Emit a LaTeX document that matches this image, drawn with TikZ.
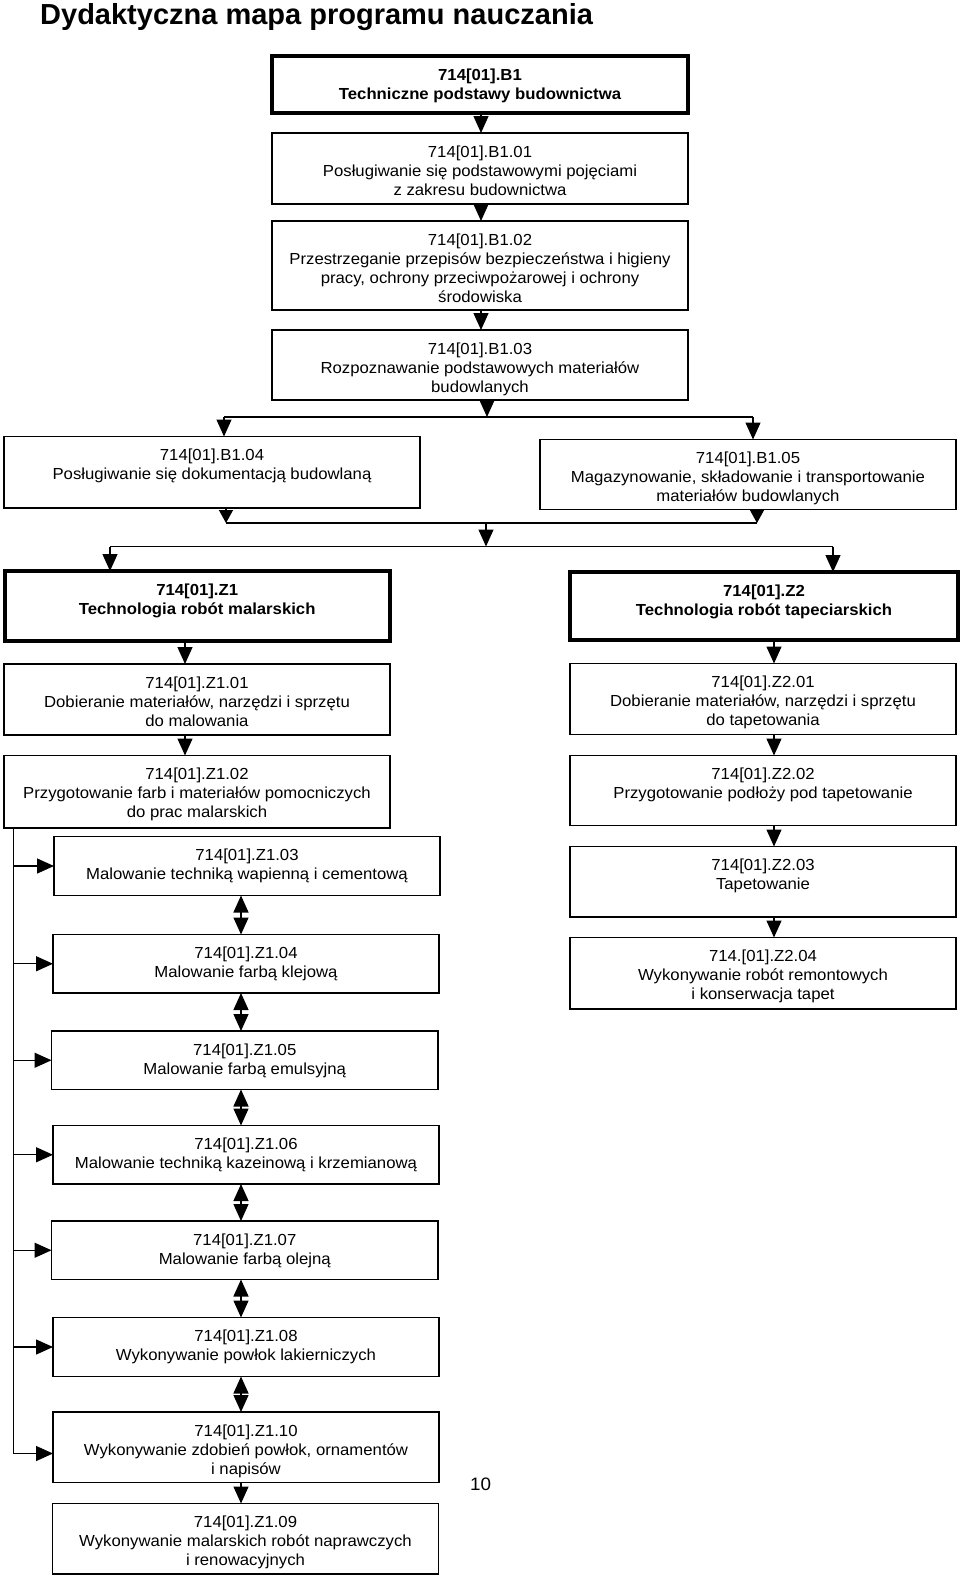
\documentclass[tikz,border=0pt]{standalone}
\usepackage{fontspec}
\setmainfont{Liberation Sans}
\newfontfamily\mapfont[FakeStretch=1.045]{Liberation Sans}
\usetikzlibrary{arrows.meta}

\tikzset{
  box/.style={draw, line width=1.4pt, anchor=north west, inner sep=0pt, outer sep=0pt},
  mainbox/.style={box, line width=3.8pt},
  txt/.style={anchor=north, align=center, inner sep=0pt, yshift=-12.3pt,
    font=\mapfont\fontsize{16}{19}\selectfont},
  txtb/.style={txt, font=\mapfont\bfseries\fontsize{16}{19}\selectfont},
  conn/.style={line width=1.3pt},
  shortarr/.style={-{Triangle[length=13pt,width=14pt]}},
  >={Triangle[length=17pt,width=15pt]}
}

\begin{document}
\begin{tikzpicture}[x=1pt,y=-1pt]
\fill[white] (0,0) rectangle (960,1577);
\useasboundingbox (0,0) rectangle (960,1577);

\node[anchor=base west, inner sep=0pt, font=\bfseries\fontsize{29}{34}\selectfont] (title) at (40,24.5) {Dydaktyczna mapa programu nauczania};

% modul B1
\node[mainbox, minimum width=416, minimum height=57] (b1) at (272,56) {};
\node[txtb] (b1t) at (b1.north) {714[01].B1\\Techniczne podstawy budownictwa};
\node[box, minimum width=416, minimum height=71] (b101) at (272,133) {};
\node[txt] (b101t) at (b101.north) {714[01].B1.01\\Posługiwanie się podstawowymi pojęciami\\z zakresu budownictwa};
\node[box, minimum width=416, minimum height=89] (b102) at (272,221) {};
\node[txt] (b102t) at (b102.north) {714[01].B1.02\\Przestrzeganie przepisów bezpieczeństwa i higieny\\pracy, ochrony przeciwpożarowej i ochrony\\środowiska};
\node[box, minimum width=416, minimum height=70] (b103) at (272,330) {};
\node[txt] (b103t) at (b103.north) {714[01].B1.03\\Rozpoznawanie podstawowych materiałów\\budowlanych};
\node[box, minimum width=416, minimum height=71.5] (b104) at (4,436.5) {};
\node[txt] (b104t) at (b104.north) {714[01].B1.04\\Posługiwanie się dokumentacją budowlaną};
\node[box, minimum width=416, minimum height=70] (b105) at (540,439.5) {};
\node[txt] (b105t) at (b105.north) {714[01].B1.05\\Magazynowanie, składowanie i transportowanie\\materiałów budowlanych};

% moduly Z1, Z2
\node[mainbox, minimum width=385, minimum height=70] (z1) at (4.7,571) {};
\node[txtb] (z1t) at (z1.north) {714[01].Z1\\Technologia robót malarskich};
\node[mainbox, minimum width=388, minimum height=68] (z2) at (570,572) {};
\node[txtb] (z2t) at (z2.north) {714[01].Z2\\Technologia robót tapeciarskich};

% jednostki Z1
\node[box, minimum width=386, minimum height=71] (z101) at (4,664) {};
\node[txt] (z101t) at (z101.north) {714[01].Z1.01\\Dobieranie materiałów, narzędzi i sprzętu\\do malowania};
\node[box, minimum width=386, minimum height=72.5] (z102) at (4,755.5) {};
\node[txt] (z102t) at (z102.north) {714[01].Z1.02\\Przygotowanie farb i materiałów pomocniczych\\do prac malarskich};
\node[box, minimum width=386, minimum height=59] (z103) at (54,836.5) {};
\node[txt] (z103t) at (z103.north) {714[01].Z1.03\\Malowanie techniką wapienną i cementową};
\node[box, minimum width=386, minimum height=58.5] (z104) at (53,934.5) {};
\node[txt] (z104t) at (z104.north) {714[01].Z1.04\\Malowanie farbą klejową};
\node[box, minimum width=386.5, minimum height=58.5] (z105) at (51.5,1031) {};
\node[txt] (z105t) at (z105.north) {714[01].Z1.05\\Malowanie farbą emulsyjną};
\node[box, minimum width=386, minimum height=58.5] (z106) at (53,1125.5) {};
\node[txt] (z106t) at (z106.north) {714[01].Z1.06\\Malowanie techniką kazeinową i krzemianową};
\node[box, minimum width=386.5, minimum height=58.5] (z107) at (51.5,1221) {};
\node[txt] (z107t) at (z107.north) {714[01].Z1.07\\Malowanie farbą olejną};
\node[box, minimum width=386, minimum height=59] (z108) at (53,1317.5) {};
\node[txt] (z108t) at (z108.north) {714[01].Z1.08\\Wykonywanie powłok lakierniczych};
\node[box, minimum width=386, minimum height=70.5] (z110) at (53,1412) {};
\node[txt] (z110t) at (z110.north) {714[01].Z1.10\\Wykonywanie zdobień powłok, ornamentów\\i napisów};
\node[box, minimum width=386, minimum height=70.5] (z109) at (52.5,1503.5) {};
\node[txt] (z109t) at (z109.north) {714[01].Z1.09\\Wykonywanie malarskich robót naprawczych\\i renowacyjnych};

% jednostki Z2
\node[box, minimum width=386, minimum height=71] (z201) at (570,663.5) {};
\node[txt] (z201t) at (z201.north) {714[01].Z2.01\\Dobieranie materiałów, narzędzi i sprzętu\\do tapetowania};
\node[box, minimum width=386, minimum height=70] (z202) at (570,755.5) {};
\node[txt] (z202t) at (z202.north) {714[01].Z2.02\\Przygotowanie podłoży pod tapetowanie};
\node[box, minimum width=386, minimum height=70.5] (z203) at (570,846.5) {};
\node[txt] (z203t) at (z203.north) {714[01].Z2.03\\Tapetowanie};
\node[box, minimum width=386, minimum height=71.5] (z204) at (570,937.5) {};
\node[txt] (z204t) at (z204.north) {714.[01].Z2.04\\Wykonywanie robót remontowych\\i konserwacja tapet};

\node[anchor=base west, inner sep=0pt, font=\mapfont\fontsize{18}{21}\selectfont] (pnum) at (470,1490.7) {10};

% prowadnice
\coordinate (gb) at (481,0);
\coordinate (gz1) at (185,0);
\coordinate (gz2) at (774,0);
\coordinate (gd) at (241,0);
\coordinate (bus) at (13.5,0);
\coordinate (busend) at (13.5,1453.5);
\coordinate (j1) at (487,417);
\coordinate (j1l) at (224,417);
\coordinate (j1r) at (753,417);
\coordinate (j2) at (486,523);
\coordinate (j2l) at (226,523);
\coordinate (j2r) at (757,523);
\coordinate (j3) at (486,546.5);
\coordinate (j3l) at (110,546.5);
\coordinate (j3r) at (833,546.5);

\foreach \a/\b in {b1/b101,b101/b102,b102/b103}
  \draw[conn,->] (\a.south -| gb) -- (\b.north -| gb);
\draw[conn,->] (b103.south -| j1) -- (j1);
\draw[conn] (j1l) -- (j1r);
\draw[conn,->] (j1l) -- (j1l |- b104.north);
\draw[conn,->] (j1r) -- (j1r |- b105.north);
\draw[conn,shortarr] (b104.south -| j2l) -- (j2l);
\draw[conn,shortarr] (b105.south -| j2r) -- (j2r);
\draw[conn] (j2l) -- (j2r);
\draw[conn,->] (j2) -- (j3);
\draw[conn] (j3l) -- (j3r);
\draw[conn,->] (j3l) -- (j3l |- z1.north);
\draw[conn,->] (j3r) -- (j3r |- z2.north);

\foreach \a/\b in {z1/z101,z101/z102}
  \draw[conn,->] (\a.south -| gz1) -- (\b.north -| gz1);
\foreach \a/\b in {z2/z201,z201/z202,z202/z203,z203/z204}
  \draw[conn,->] (\a.south -| gz2) -- (\b.north -| gz2);
\foreach \a/\b in {z103/z104,z104/z105,z105/z106,z106/z107,z107/z108,z108/z110}
  \draw[conn,<->] (\a.south -| gd) -- (\b.north -| gd);
\draw[conn,->] (z110.south -| gd) -- (z109.north -| gd);

\draw[conn] (z102.south -| bus) -- (busend);
\foreach \b in {z103,z104,z105,z106,z107,z108}
  \draw[conn,->] (\b.west -| bus) -- (\b.west);
\draw[conn,->] (busend) -- (busend -| z110.west);
\end{tikzpicture}
\end{document}
